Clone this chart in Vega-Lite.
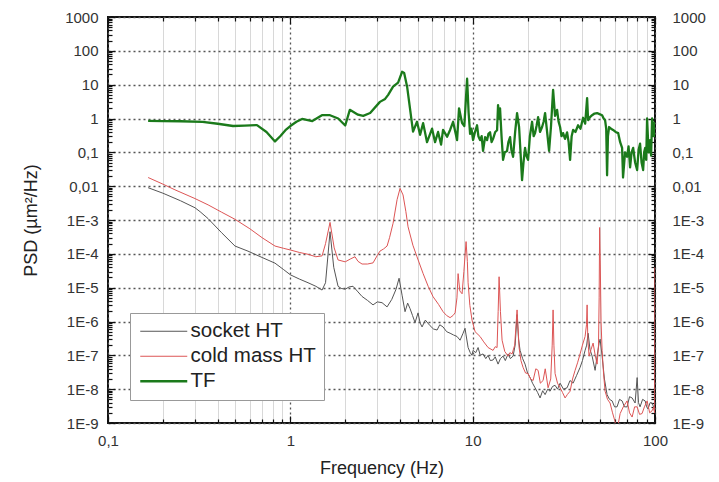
{
  "$schema": "https://vega.github.io/schema/vega-lite/v6.json",
  "width": 547,
  "height": 406,
  "autosize": "none",
  "padding": {"left": 108, "top": 17, "right": 64, "bottom": 59},
  "background": "white",
  "config": {
    "view": {"stroke": "#111", "strokeWidth": 2},
    "font": "Liberation Sans",
    "axis": {
      "labelFont": "Liberation Sans",
      "labelFontSize": 15,
      "labelColor": "#333",
      "titleFont": "Liberation Sans",
      "titleFontSize": 18,
      "titleFontWeight": "normal",
      "titleColor": "#222",
      "domain": false,
      "tickColor": "#111",
      "tickWidth": 1.2,
      "labelOverlap": false,
      "labelBound": false,
      "labelFlush": false
    }
  },
  "data": {
    "values": [
      {"series": "socket HT", "freq": 0.166, "psd": 0.009},
      {"series": "socket HT", "freq": 0.2, "psd": 0.0062},
      {"series": "socket HT", "freq": 0.25, "psd": 0.0037},
      {"series": "socket HT", "freq": 0.3, "psd": 0.0023},
      {"series": "socket HT", "freq": 0.32, "psd": 0.00176},
      {"series": "socket HT", "freq": 0.354, "psd": 0.0011},
      {"series": "socket HT", "freq": 0.42, "psd": 0.00042},
      {"series": "socket HT", "freq": 0.497, "psd": 0.00017},
      {"series": "socket HT", "freq": 0.586, "psd": 0.00012},
      {"series": "socket HT", "freq": 0.7, "psd": 0.000078},
      {"series": "socket HT", "freq": 0.824, "psd": 0.000053},
      {"series": "socket HT", "freq": 0.92, "psd": 0.000034},
      {"series": "socket HT", "freq": 1.0, "psd": 0.000024},
      {"series": "socket HT", "freq": 1.12, "psd": 0.000018},
      {"series": "socket HT", "freq": 1.25, "psd": 0.000014},
      {"series": "socket HT", "freq": 1.38, "psd": 0.000011},
      {"series": "socket HT", "freq": 1.493, "psd": 0.0000085},
      {"series": "socket HT", "freq": 1.56, "psd": 0.000014},
      {"series": "socket HT", "freq": 1.651, "psd": 0.00045},
      {"series": "socket HT", "freq": 1.73, "psd": 0.00004},
      {"series": "socket HT", "freq": 1.827, "psd": 0.000011},
      {"series": "socket HT", "freq": 1.9, "psd": 0.0000095},
      {"series": "socket HT", "freq": 2.0, "psd": 0.000009},
      {"series": "socket HT", "freq": 2.1, "psd": 0.0000105},
      {"series": "socket HT", "freq": 2.207, "psd": 0.000011},
      {"series": "socket HT", "freq": 2.35, "psd": 0.0000075},
      {"series": "socket HT", "freq": 2.473, "psd": 0.0000055},
      {"series": "socket HT", "freq": 2.65, "psd": 0.0000042},
      {"series": "socket HT", "freq": 2.842, "psd": 0.0000031},
      {"series": "socket HT", "freq": 3.0, "psd": 0.0000038},
      {"series": "socket HT", "freq": 3.184, "psd": 0.0000036},
      {"series": "socket HT", "freq": 3.393, "psd": 0.0000027},
      {"series": "socket HT", "freq": 3.6, "psd": 0.0000045},
      {"series": "socket HT", "freq": 3.8, "psd": 0.000009},
      {"series": "socket HT", "freq": 3.948, "psd": 0.000019},
      {"series": "socket HT", "freq": 4.1, "psd": 0.000006},
      {"series": "socket HT", "freq": 4.257, "psd": 0.00000195},
      {"series": "socket HT", "freq": 4.4, "psd": 0.0000035},
      {"series": "socket HT", "freq": 4.535, "psd": 0.0000024},
      {"series": "socket HT", "freq": 4.68, "psd": 0.0000015},
      {"series": "socket HT", "freq": 4.831, "psd": 0.00000093},
      {"series": "socket HT", "freq": 5.017, "psd": 0.0000018},
      {"series": "socket HT", "freq": 5.15, "psd": 0.0000009},
      {"series": "socket HT", "freq": 5.278, "psd": 0.00000069},
      {"series": "socket HT", "freq": 5.5, "psd": 0.0000011},
      {"series": "socket HT", "freq": 5.84, "psd": 0.00000075},
      {"series": "socket HT", "freq": 6.1, "psd": 0.0000006},
      {"series": "socket HT", "freq": 6.38, "psd": 0.00000056},
      {"series": "socket HT", "freq": 6.6, "psd": 0.0000008},
      {"series": "socket HT", "freq": 6.88, "psd": 0.00000069},
      {"series": "socket HT", "freq": 7.2, "psd": 0.0000005},
      {"series": "socket HT", "freq": 7.52, "psd": 0.00000045},
      {"series": "socket HT", "freq": 7.85, "psd": 0.0000004},
      {"series": "socket HT", "freq": 8.21, "psd": 0.00000036},
      {"series": "socket HT", "freq": 8.53, "psd": 0.00000028},
      {"series": "socket HT", "freq": 8.86, "psd": 0.00000045},
      {"series": "socket HT", "freq": 9.08, "psd": 0.00000063},
      {"series": "socket HT", "freq": 9.2, "psd": 0.0000004},
      {"series": "socket HT", "freq": 9.44, "psd": 0.00000017},
      {"series": "socket HT", "freq": 9.7, "psd": 0.00000012},
      {"series": "socket HT", "freq": 9.92, "psd": 0.0000001},
      {"series": "socket HT", "freq": 10.05, "psd": 0.00000014},
      {"series": "socket HT", "freq": 10.4, "psd": 0.00000012},
      {"series": "socket HT", "freq": 10.71, "psd": 0.00000017},
      {"series": "socket HT", "freq": 11.0, "psd": 0.0000001},
      {"series": "socket HT", "freq": 11.4, "psd": 0.00000011},
      {"series": "socket HT", "freq": 11.8, "psd": 0.00000008},
      {"series": "socket HT", "freq": 12.15, "psd": 0.0000001},
      {"series": "socket HT", "freq": 12.5, "psd": 0.00000007},
      {"series": "socket HT", "freq": 12.94, "psd": 0.000000073},
      {"series": "socket HT", "freq": 13.3, "psd": 0.00000009},
      {"series": "socket HT", "freq": 13.78, "psd": 0.000000055},
      {"series": "socket HT", "freq": 14.2, "psd": 0.00000008},
      {"series": "socket HT", "freq": 14.68, "psd": 0.000000095},
      {"series": "socket HT", "freq": 15.1, "psd": 0.00000007},
      {"series": "socket HT", "freq": 15.64, "psd": 0.00000011},
      {"series": "socket HT", "freq": 16.1, "psd": 0.00000008},
      {"series": "socket HT", "freq": 16.66, "psd": 0.000000095},
      {"series": "socket HT", "freq": 17.1, "psd": 0.0000002},
      {"series": "socket HT", "freq": 17.52, "psd": 0.0000016},
      {"series": "socket HT", "freq": 17.85, "psd": 0.0000003},
      {"series": "socket HT", "freq": 18.2, "psd": 0.00000014},
      {"series": "socket HT", "freq": 18.8, "psd": 0.00000008},
      {"series": "socket HT", "freq": 19.38, "psd": 0.000000055},
      {"series": "socket HT", "freq": 20.0, "psd": 0.00000003},
      {"series": "socket HT", "freq": 20.65, "psd": 0.000000022},
      {"series": "socket HT", "freq": 21.3, "psd": 0.000000015},
      {"series": "socket HT", "freq": 21.99, "psd": 0.000000011},
      {"series": "socket HT", "freq": 22.7, "psd": 0.000000008},
      {"series": "socket HT", "freq": 23.43, "psd": 0.0000000055},
      {"series": "socket HT", "freq": 24.2, "psd": 0.000000009},
      {"series": "socket HT", "freq": 24.96, "psd": 0.0000000069},
      {"series": "socket HT", "freq": 25.8, "psd": 0.00000001},
      {"series": "socket HT", "freq": 26.58, "psd": 0.0000000087},
      {"series": "socket HT", "freq": 27.4, "psd": 0.000000012},
      {"series": "socket HT", "freq": 28.31, "psd": 0.000000013},
      {"series": "socket HT", "freq": 29.2, "psd": 0.00000001},
      {"series": "socket HT", "freq": 30.16, "psd": 0.000000015},
      {"series": "socket HT", "freq": 31.5, "psd": 0.00000001},
      {"series": "socket HT", "freq": 32.95, "psd": 0.000000011},
      {"series": "socket HT", "freq": 34.2, "psd": 0.000000018},
      {"series": "socket HT", "freq": 35.54, "psd": 0.000000015},
      {"series": "socket HT", "freq": 37.1, "psd": 0.000000025},
      {"series": "socket HT", "freq": 38.83, "psd": 0.000000044},
      {"series": "socket HT", "freq": 40.0, "psd": 0.00000007},
      {"series": "socket HT", "freq": 41.36, "psd": 0.00000014},
      {"series": "socket HT", "freq": 42.2, "psd": 0.0000002},
      {"series": "socket HT", "freq": 42.96, "psd": 0.00000045},
      {"series": "socket HT", "freq": 44.0, "psd": 0.00000015},
      {"series": "socket HT", "freq": 45.19, "psd": 0.000000095},
      {"series": "socket HT", "freq": 46.93, "psd": 0.000000036},
      {"series": "socket HT", "freq": 48.2, "psd": 0.0000001},
      {"series": "socket HT", "freq": 49.37, "psd": 0.00000023},
      {"series": "socket HT", "freq": 50.0, "psd": 0.0000003},
      {"series": "socket HT", "freq": 51.27, "psd": 0.000000095},
      {"series": "socket HT", "freq": 52.8, "psd": 0.00000002},
      {"series": "socket HT", "freq": 54.6, "psd": 0.0000000069},
      {"series": "socket HT", "freq": 56.3, "psd": 0.000000005},
      {"series": "socket HT", "freq": 58.2, "psd": 0.0000000045},
      {"series": "socket HT", "freq": 60.0, "psd": 0.000000003},
      {"series": "socket HT", "freq": 61.9, "psd": 0.000000003},
      {"series": "socket HT", "freq": 63.9, "psd": 0.000000005},
      {"series": "socket HT", "freq": 66.0, "psd": 0.0000000045},
      {"series": "socket HT", "freq": 68.0, "psd": 0.000000003},
      {"series": "socket HT", "freq": 70.3, "psd": 0.000000003},
      {"series": "socket HT", "freq": 72.5, "psd": 0.000000006},
      {"series": "socket HT", "freq": 74.9, "psd": 0.0000000055},
      {"series": "socket HT", "freq": 77.8, "psd": 0.0000000039},
      {"series": "socket HT", "freq": 79.8, "psd": 0.000000022},
      {"series": "socket HT", "freq": 81.2, "psd": 0.000000004},
      {"series": "socket HT", "freq": 82.8, "psd": 0.000000003},
      {"series": "socket HT", "freq": 85.5, "psd": 0.000000005},
      {"series": "socket HT", "freq": 88.3, "psd": 0.0000000045},
      {"series": "socket HT", "freq": 90.0, "psd": 0.000000003},
      {"series": "socket HT", "freq": 91.6, "psd": 0.0000000026},
      {"series": "socket HT", "freq": 94.0, "psd": 0.000000004},
      {"series": "socket HT", "freq": 96.4, "psd": 0.0000000039},
      {"series": "socket HT", "freq": 98.2, "psd": 0.000000003},
      {"series": "socket HT", "freq": 99.8, "psd": 0.000000002},

      {"series": "cold mass HT", "freq": 0.166, "psd": 0.018},
      {"series": "cold mass HT", "freq": 0.2, "psd": 0.0115},
      {"series": "cold mass HT", "freq": 0.233, "psd": 0.0078},
      {"series": "cold mass HT", "freq": 0.3, "psd": 0.0043},
      {"series": "cold mass HT", "freq": 0.354, "psd": 0.0028},
      {"series": "cold mass HT", "freq": 0.42, "psd": 0.0017},
      {"series": "cold mass HT", "freq": 0.497, "psd": 0.00105},
      {"series": "cold mass HT", "freq": 0.6, "psd": 0.00055},
      {"series": "cold mass HT", "freq": 0.7, "psd": 0.0003},
      {"series": "cold mass HT", "freq": 0.824, "psd": 0.00017},
      {"series": "cold mass HT", "freq": 0.92, "psd": 0.000145},
      {"series": "cold mass HT", "freq": 1.0, "psd": 0.00013},
      {"series": "cold mass HT", "freq": 1.12, "psd": 0.00011},
      {"series": "cold mass HT", "freq": 1.25, "psd": 0.000097},
      {"series": "cold mass HT", "freq": 1.38, "psd": 0.000082},
      {"series": "cold mass HT", "freq": 1.493, "psd": 0.000087},
      {"series": "cold mass HT", "freq": 1.56, "psd": 0.0002},
      {"series": "cold mass HT", "freq": 1.651, "psd": 0.00085},
      {"series": "cold mass HT", "freq": 1.74, "psd": 0.00015},
      {"series": "cold mass HT", "freq": 1.827, "psd": 0.000066},
      {"series": "cold mass HT", "freq": 2.0, "psd": 0.000058},
      {"series": "cold mass HT", "freq": 2.13, "psd": 0.00007},
      {"series": "cold mass HT", "freq": 2.263, "psd": 0.000082},
      {"series": "cold mass HT", "freq": 2.35, "psd": 0.00006},
      {"series": "cold mass HT", "freq": 2.473, "psd": 0.00005},
      {"series": "cold mass HT", "freq": 2.65, "psd": 0.00005},
      {"series": "cold mass HT", "freq": 2.842, "psd": 0.000054},
      {"series": "cold mass HT", "freq": 3.0, "psd": 0.00009},
      {"series": "cold mass HT", "freq": 3.1, "psd": 0.00012},
      {"series": "cold mass HT", "freq": 3.25, "psd": 0.00014},
      {"series": "cold mass HT", "freq": 3.393, "psd": 0.00017},
      {"series": "cold mass HT", "freq": 3.5, "psd": 0.0003},
      {"series": "cold mass HT", "freq": 3.66, "psd": 0.0008},
      {"series": "cold mass HT", "freq": 3.85, "psd": 0.004},
      {"series": "cold mass HT", "freq": 3.997, "psd": 0.0086},
      {"series": "cold mass HT", "freq": 4.151, "psd": 0.0055},
      {"series": "cold mass HT", "freq": 4.3, "psd": 0.0018},
      {"series": "cold mass HT", "freq": 4.422, "psd": 0.00063},
      {"series": "cold mass HT", "freq": 4.7, "psd": 0.00018},
      {"series": "cold mass HT", "freq": 4.95, "psd": 0.000082},
      {"series": "cold mass HT", "freq": 5.35, "psd": 0.000026},
      {"series": "cold mass HT", "freq": 5.7, "psd": 0.000011},
      {"series": "cold mass HT", "freq": 6.066, "psd": 0.0000054},
      {"series": "cold mass HT", "freq": 6.5, "psd": 0.0000032},
      {"series": "cold mass HT", "freq": 6.88, "psd": 0.00000195},
      {"series": "cold mass HT", "freq": 7.2, "psd": 0.0000015},
      {"series": "cold mass HT", "freq": 7.52, "psd": 0.0000013},
      {"series": "cold mass HT", "freq": 7.8, "psd": 0.0000015},
      {"series": "cold mass HT", "freq": 8.01, "psd": 0.0000018},
      {"series": "cold mass HT", "freq": 8.2, "psd": 0.000005},
      {"series": "cold mass HT", "freq": 8.32, "psd": 0.000026},
      {"series": "cold mass HT", "freq": 8.5, "psd": 0.000008},
      {"series": "cold mass HT", "freq": 8.75, "psd": 0.0000066},
      {"series": "cold mass HT", "freq": 8.95, "psd": 0.00003},
      {"series": "cold mass HT", "freq": 9.2, "psd": 0.00023},
      {"series": "cold mass HT", "freq": 9.35, "psd": 0.00006},
      {"series": "cold mass HT", "freq": 9.44, "psd": 0.000014},
      {"series": "cold mass HT", "freq": 9.65, "psd": 0.000003},
      {"series": "cold mass HT", "freq": 9.92, "psd": 0.0000011},
      {"series": "cold mass HT", "freq": 10.31, "psd": 0.0000005},
      {"series": "cold mass HT", "freq": 10.98, "psd": 0.00000036},
      {"series": "cold mass HT", "freq": 11.5, "psd": 0.00000025},
      {"series": "cold mass HT", "freq": 12.15, "psd": 0.00000017},
      {"series": "cold mass HT", "freq": 12.94, "psd": 0.00000014},
      {"series": "cold mass HT", "freq": 13.3, "psd": 0.00000018},
      {"series": "cold mass HT", "freq": 13.61, "psd": 0.00000017},
      {"series": "cold mass HT", "freq": 13.8, "psd": 0.000002},
      {"series": "cold mass HT", "freq": 13.96, "psd": 0.000021},
      {"series": "cold mass HT", "freq": 14.2, "psd": 0.000002},
      {"series": "cold mass HT", "freq": 14.5, "psd": 0.00000028},
      {"series": "cold mass HT", "freq": 15.0, "psd": 0.00000013},
      {"series": "cold mass HT", "freq": 15.64, "psd": 0.000000095},
      {"series": "cold mass HT", "freq": 16.0, "psd": 0.00000012},
      {"series": "cold mass HT", "freq": 16.45, "psd": 0.00000011},
      {"series": "cold mass HT", "freq": 17.0, "psd": 0.0000002},
      {"series": "cold mass HT", "freq": 17.52, "psd": 0.0000022},
      {"series": "cold mass HT", "freq": 17.97, "psd": 0.00000017},
      {"series": "cold mass HT", "freq": 18.4, "psd": 0.00000007},
      {"series": "cold mass HT", "freq": 18.9, "psd": 0.000000044},
      {"series": "cold mass HT", "freq": 19.5, "psd": 0.00000003},
      {"series": "cold mass HT", "freq": 20.13, "psd": 0.000000029},
      {"series": "cold mass HT", "freq": 20.8, "psd": 0.00000002},
      {"series": "cold mass HT", "freq": 21.45, "psd": 0.000000018},
      {"series": "cold mass HT", "freq": 22.2, "psd": 0.00000004},
      {"series": "cold mass HT", "freq": 22.85, "psd": 0.000000036},
      {"series": "cold mass HT", "freq": 23.5, "psd": 0.000000015},
      {"series": "cold mass HT", "freq": 24.33, "psd": 0.000000018},
      {"series": "cold mass HT", "freq": 25.0, "psd": 0.00000004},
      {"series": "cold mass HT", "freq": 25.92, "psd": 0.000000011},
      {"series": "cold mass HT", "freq": 26.8, "psd": 0.00000002},
      {"series": "cold mass HT", "freq": 27.3, "psd": 0.0000002},
      {"series": "cold mass HT", "freq": 27.61, "psd": 0.0000022},
      {"series": "cold mass HT", "freq": 27.9, "psd": 0.0000002},
      {"series": "cold mass HT", "freq": 28.31, "psd": 0.000000029},
      {"series": "cold mass HT", "freq": 29.2, "psd": 0.000000015},
      {"series": "cold mass HT", "freq": 30.16, "psd": 0.000000011},
      {"series": "cold mass HT", "freq": 31.1, "psd": 0.000000008},
      {"series": "cold mass HT", "freq": 32.13, "psd": 0.0000000055},
      {"series": "cold mass HT", "freq": 33.1, "psd": 0.000000007},
      {"series": "cold mass HT", "freq": 34.22, "psd": 0.0000000087},
      {"series": "cold mass HT", "freq": 35.3, "psd": 0.00000002},
      {"series": "cold mass HT", "freq": 36.45, "psd": 0.000000036},
      {"series": "cold mass HT", "freq": 37.6, "psd": 0.00000006},
      {"series": "cold mass HT", "freq": 38.83, "psd": 0.00000011},
      {"series": "cold mass HT", "freq": 40.0, "psd": 0.0000002},
      {"series": "cold mass HT", "freq": 41.36, "psd": 0.00000036},
      {"series": "cold mass HT", "freq": 42.1, "psd": 0.0000008},
      {"series": "cold mass HT", "freq": 42.43, "psd": 0.0000031},
      {"series": "cold mass HT", "freq": 42.8, "psd": 0.0000003},
      {"series": "cold mass HT", "freq": 43.5, "psd": 0.000000095},
      {"series": "cold mass HT", "freq": 44.6, "psd": 0.00000015},
      {"series": "cold mass HT", "freq": 45.76, "psd": 0.00000023},
      {"series": "cold mass HT", "freq": 47.0, "psd": 0.0000001},
      {"series": "cold mass HT", "freq": 48.13, "psd": 0.000000055},
      {"series": "cold mass HT", "freq": 49.0, "psd": 0.0000002},
      {"series": "cold mass HT", "freq": 49.4, "psd": 0.000005},
      {"series": "cold mass HT", "freq": 49.7, "psd": 0.0006},
      {"series": "cold mass HT", "freq": 50.1, "psd": 0.00005},
      {"series": "cold mass HT", "freq": 50.6, "psd": 0.000001},
      {"series": "cold mass HT", "freq": 51.27, "psd": 0.00000014},
      {"series": "cold mass HT", "freq": 52.2, "psd": 0.00000003},
      {"series": "cold mass HT", "freq": 53.24, "psd": 0.0000000087},
      {"series": "cold mass HT", "freq": 54.9, "psd": 0.000000005},
      {"series": "cold mass HT", "freq": 56.7, "psd": 0.0000000039},
      {"series": "cold mass HT", "freq": 58.5, "psd": 0.000000002},
      {"series": "cold mass HT", "freq": 60.4, "psd": 0.0000000011},
      {"series": "cold mass HT", "freq": 61.5, "psd": 0.0000000006},
      {"series": "cold mass HT", "freq": 62.5, "psd": 0.0000000008},
      {"series": "cold mass HT", "freq": 64.4, "psd": 0.0000000019},
      {"series": "cold mass HT", "freq": 67.0, "psd": 0.000000003},
      {"series": "cold mass HT", "freq": 70.3, "psd": 0.0000000045},
      {"series": "cold mass HT", "freq": 72.5, "psd": 0.000000002},
      {"series": "cold mass HT", "freq": 74.9, "psd": 0.0000000015},
      {"series": "cold mass HT", "freq": 77.3, "psd": 0.000000003},
      {"series": "cold mass HT", "freq": 79.8, "psd": 0.000000003},
      {"series": "cold mass HT", "freq": 82.3, "psd": 0.0000000018},
      {"series": "cold mass HT", "freq": 84.9, "psd": 0.0000000019},
      {"series": "cold mass HT", "freq": 87.5, "psd": 0.000000003},
      {"series": "cold mass HT", "freq": 90.5, "psd": 0.0000000045},
      {"series": "cold mass HT", "freq": 93.5, "psd": 0.000000002},
      {"series": "cold mass HT", "freq": 96.4, "psd": 0.0000000023},
      {"series": "cold mass HT", "freq": 98.5, "psd": 0.000000003},
      {"series": "cold mass HT", "freq": 99.5, "psd": 0.000000002},
      {"series": "cold mass HT", "freq": 99.9, "psd": 0.00004},

      {"series": "TF", "freq": 0.166, "psd": 0.85},
      {"series": "TF", "freq": 0.2, "psd": 0.84},
      {"series": "TF", "freq": 0.25, "psd": 0.83},
      {"series": "TF", "freq": 0.33, "psd": 0.8},
      {"series": "TF", "freq": 0.4, "psd": 0.7},
      {"series": "TF", "freq": 0.485, "psd": 0.6},
      {"series": "TF", "freq": 0.56, "psd": 0.62},
      {"series": "TF", "freq": 0.656, "psd": 0.64},
      {"series": "TF", "freq": 0.74, "psd": 0.4},
      {"series": "TF", "freq": 0.824, "psd": 0.21},
      {"series": "TF", "freq": 0.88, "psd": 0.3},
      {"series": "TF", "freq": 0.94, "psd": 0.45},
      {"series": "TF", "freq": 1.0, "psd": 0.6},
      {"series": "TF", "freq": 1.08, "psd": 0.8},
      {"series": "TF", "freq": 1.16, "psd": 0.97},
      {"series": "TF", "freq": 1.32, "psd": 0.84},
      {"series": "TF", "freq": 1.49, "psd": 1.25},
      {"series": "TF", "freq": 1.65, "psd": 1.25},
      {"series": "TF", "freq": 1.83, "psd": 1.0},
      {"series": "TF", "freq": 2.0, "psd": 0.62},
      {"series": "TF", "freq": 2.12, "psd": 1.8},
      {"series": "TF", "freq": 2.35, "psd": 1.3},
      {"series": "TF", "freq": 2.51, "psd": 1.2},
      {"series": "TF", "freq": 2.74, "psd": 1.45},
      {"series": "TF", "freq": 3.1, "psd": 3.1},
      {"series": "TF", "freq": 3.31, "psd": 3.8},
      {"series": "TF", "freq": 3.44, "psd": 5.0},
      {"series": "TF", "freq": 3.66, "psd": 8.7},
      {"series": "TF", "freq": 3.9, "psd": 11.5},
      {"series": "TF", "freq": 4.1, "psd": 24},
      {"series": "TF", "freq": 4.21, "psd": 22},
      {"series": "TF", "freq": 4.37, "psd": 8.7},
      {"series": "TF", "freq": 4.71, "psd": 0.41},
      {"series": "TF", "freq": 4.95, "psd": 0.8},
      {"series": "TF", "freq": 5.15, "psd": 0.33},
      {"series": "TF", "freq": 5.35, "psd": 0.73},
      {"series": "TF", "freq": 5.62, "psd": 0.2},
      {"series": "TF", "freq": 5.99, "psd": 0.5},
      {"series": "TF", "freq": 6.22, "psd": 0.2},
      {"series": "TF", "freq": 6.46, "psd": 0.4},
      {"series": "TF", "freq": 6.71, "psd": 0.17},
      {"series": "TF", "freq": 6.88, "psd": 0.46},
      {"series": "TF", "freq": 7.24, "psd": 0.29},
      {"series": "TF", "freq": 7.52, "psd": 0.46},
      {"series": "TF", "freq": 7.81, "psd": 0.8},
      {"series": "TF", "freq": 8.21, "psd": 0.23},
      {"series": "TF", "freq": 8.42, "psd": 2.0},
      {"series": "TF", "freq": 8.75, "psd": 0.73},
      {"series": "TF", "freq": 9.0, "psd": 0.6},
      {"series": "TF", "freq": 9.32, "psd": 15},
      {"series": "TF", "freq": 9.5, "psd": 1.5},
      {"series": "TF", "freq": 9.68, "psd": 0.35},
      {"series": "TF", "freq": 9.85, "psd": 0.5},
      {"series": "TF", "freq": 10.05, "psd": 0.23},
      {"series": "TF", "freq": 10.3, "psd": 0.4},
      {"series": "TF", "freq": 10.57, "psd": 0.63},
      {"series": "TF", "freq": 10.75, "psd": 0.3},
      {"series": "TF", "freq": 10.98, "psd": 0.23},
      {"series": "TF", "freq": 11.2, "psd": 0.3},
      {"series": "TF", "freq": 11.4, "psd": 0.11},
      {"series": "TF", "freq": 11.7, "psd": 0.28},
      {"series": "TF", "freq": 12.0, "psd": 0.23},
      {"series": "TF", "freq": 12.2, "psd": 0.35},
      {"series": "TF", "freq": 12.46, "psd": 0.39},
      {"series": "TF", "freq": 12.7, "psd": 0.2},
      {"series": "TF", "freq": 12.94, "psd": 0.25},
      {"series": "TF", "freq": 13.3, "psd": 0.4},
      {"series": "TF", "freq": 13.61, "psd": 0.45},
      {"series": "TF", "freq": 13.78, "psd": 2.5},
      {"series": "TF", "freq": 13.95, "psd": 1.0},
      {"series": "TF", "freq": 14.13, "psd": 2.0},
      {"series": "TF", "freq": 14.4, "psd": 0.3},
      {"series": "TF", "freq": 14.68, "psd": 0.06},
      {"series": "TF", "freq": 15.0, "psd": 0.1},
      {"series": "TF", "freq": 15.44, "psd": 0.11},
      {"series": "TF", "freq": 15.7, "psd": 0.2},
      {"series": "TF", "freq": 16.04, "psd": 0.28},
      {"series": "TF", "freq": 16.3, "psd": 0.12},
      {"series": "TF", "freq": 16.66, "psd": 0.074},
      {"series": "TF", "freq": 17.1, "psd": 0.4},
      {"series": "TF", "freq": 17.52, "psd": 1.45},
      {"series": "TF", "freq": 17.97, "psd": 0.56},
      {"series": "TF", "freq": 18.3, "psd": 0.1},
      {"series": "TF", "freq": 18.66, "psd": 0.015},
      {"series": "TF", "freq": 19.0, "psd": 0.05},
      {"series": "TF", "freq": 19.38, "psd": 0.135},
      {"series": "TF", "freq": 19.7, "psd": 0.08},
      {"series": "TF", "freq": 20.13, "psd": 0.06},
      {"series": "TF", "freq": 20.6, "psd": 0.3},
      {"series": "TF", "freq": 21.18, "psd": 0.8},
      {"series": "TF", "freq": 21.6, "psd": 0.3},
      {"series": "TF", "freq": 21.99, "psd": 0.37},
      {"series": "TF", "freq": 22.4, "psd": 0.6},
      {"series": "TF", "freq": 22.85, "psd": 1.1},
      {"series": "TF", "freq": 23.4, "psd": 0.4},
      {"series": "TF", "freq": 24.03, "psd": 0.56},
      {"series": "TF", "freq": 24.5, "psd": 0.8},
      {"series": "TF", "freq": 24.96, "psd": 1.45},
      {"series": "TF", "freq": 25.6, "psd": 0.4},
      {"series": "TF", "freq": 26.25, "psd": 0.11},
      {"series": "TF", "freq": 26.9, "psd": 0.6},
      {"series": "TF", "freq": 27.61, "psd": 7.0},
      {"series": "TF", "freq": 28.3, "psd": 1.2},
      {"series": "TF", "freq": 29.04, "psd": 1.8},
      {"series": "TF", "freq": 29.6, "psd": 0.8},
      {"series": "TF", "freq": 30.16, "psd": 0.56},
      {"series": "TF", "freq": 30.7, "psd": 0.3},
      {"series": "TF", "freq": 31.33, "psd": 0.37},
      {"series": "TF", "freq": 32.1, "psd": 0.25},
      {"series": "TF", "freq": 32.95, "psd": 0.39},
      {"series": "TF", "freq": 33.6, "psd": 0.2},
      {"series": "TF", "freq": 34.22, "psd": 0.06},
      {"series": "TF", "freq": 34.9, "psd": 0.3},
      {"series": "TF", "freq": 35.54, "psd": 0.46},
      {"series": "TF", "freq": 36.6, "psd": 0.4},
      {"series": "TF", "freq": 37.87, "psd": 0.63},
      {"series": "TF", "freq": 39.0, "psd": 0.5},
      {"series": "TF", "freq": 40.33, "psd": 1.05},
      {"series": "TF", "freq": 41.4, "psd": 0.7},
      {"series": "TF", "freq": 42.43, "psd": 4.0},
      {"series": "TF", "freq": 42.96, "psd": 0.9},
      {"series": "TF", "freq": 44.0, "psd": 1.1},
      {"series": "TF", "freq": 45.19, "psd": 1.25},
      {"series": "TF", "freq": 46.6, "psd": 1.4},
      {"series": "TF", "freq": 48.13, "psd": 1.45},
      {"series": "TF", "freq": 49.6, "psd": 1.35},
      {"series": "TF", "freq": 51.27, "psd": 1.25},
      {"series": "TF", "freq": 52.3, "psd": 1.0},
      {"series": "TF", "freq": 53.24, "psd": 0.9},
      {"series": "TF", "freq": 54.0, "psd": 0.5},
      {"series": "TF", "freq": 54.6, "psd": 0.021},
      {"series": "TF", "freq": 55.2, "psd": 0.3},
      {"series": "TF", "freq": 56.0, "psd": 0.56},
      {"series": "TF", "freq": 57.4, "psd": 0.5},
      {"series": "TF", "freq": 58.9, "psd": 0.46},
      {"series": "TF", "freq": 60.8, "psd": 0.4},
      {"series": "TF", "freq": 62.8, "psd": 0.37},
      {"series": "TF", "freq": 64.4, "psd": 0.2},
      {"series": "TF", "freq": 66.0, "psd": 0.135},
      {"series": "TF", "freq": 66.8, "psd": 0.018},
      {"series": "TF", "freq": 68.5, "psd": 0.1},
      {"series": "TF", "freq": 70.3, "psd": 0.074},
      {"series": "TF", "freq": 71.6, "psd": 0.15},
      {"series": "TF", "freq": 73.0, "psd": 0.036},
      {"series": "TF", "freq": 74.4, "psd": 0.1},
      {"series": "TF", "freq": 75.9, "psd": 0.135},
      {"series": "TF", "freq": 77.8, "psd": 0.05},
      {"series": "TF", "freq": 79.8, "psd": 0.03},
      {"series": "TF", "freq": 81.3, "psd": 0.12},
      {"series": "TF", "freq": 82.8, "psd": 0.18},
      {"series": "TF", "freq": 84.4, "psd": 0.05},
      {"series": "TF", "freq": 86.1, "psd": 0.03},
      {"series": "TF", "freq": 87.2, "psd": 0.1},
      {"series": "TF", "freq": 88.3, "psd": 0.135},
      {"series": "TF", "freq": 89.5, "psd": 0.06},
      {"series": "TF", "freq": 90.5, "psd": 1.0},
      {"series": "TF", "freq": 92.2, "psd": 0.1},
      {"series": "TF", "freq": 94.0, "psd": 0.23},
      {"series": "TF", "freq": 95.2, "psd": 0.08},
      {"series": "TF", "freq": 96.4, "psd": 1.0},
      {"series": "TF", "freq": 97.6, "psd": 0.56},
      {"series": "TF", "freq": 98.7, "psd": 0.3},
      {"series": "TF", "freq": 99.8, "psd": 0.8}
    ]
  },
  "layer": [
    {
      "mark": {"type": "line", "clip": true, "strokeJoin": "round"},
      "encoding": {
        "x": {
          "field": "freq",
          "type": "quantitative",
          "scale": {"type": "log", "domain": [0.1, 100], "nice": false},
          "axis": {
            "orient": "bottom",
            "title": "Frequency (Hz)",
            "values": [0.1, 1, 10, 100],
            "grid": true,
            "gridColor": "#555",
            "gridDash": [2, 3],
            "gridWidth": 1.3,
            "tickSize": -7,
            "labelExpr": "datum.value < 1 ? replace(format(datum.value, '.1f'), '.', ',') : format(datum.value, 'd')",
            "labelPadding": 17,
            "titlePadding": 11
          }
        },
        "y": {
          "field": "psd",
          "type": "quantitative",
          "scale": {"type": "log", "domain": [1e-9, 1000], "nice": false},
          "axis": {
            "orient": "left",
            "title": "PSD (µm²/Hz)",
            "values": [1e-9, 1e-8, 1e-7, 1e-6, 1e-5, 1e-4, 0.001, 0.01, 0.1, 1, 10, 100, 1000],
            "grid": true,
            "gridColor": "#555",
            "gridDash": [2, 3],
            "gridWidth": 1.3,
            "tickSize": -7,
            "labelExpr": "datum.value >= 1 ? format(datum.value, 'd') : datum.value > 0.005 ? replace(format(datum.value, '.2~f'), '.', ',') : '1E' + round(log(datum.value)/LN10)",
            "labelPadding": 17,
            "titlePadding": 24
          }
        },
        "color": {
          "field": "series",
          "type": "ordinal",
          "scale": {"type": "ordinal", "domain": ["socket HT", "cold mass HT", "TF"], "range": ["#555555", "#dd5555", "#1b7a1b"]},
          "legend": {
            "orient": "none",
            "legendX": 22,
            "legendY": 296,
            "title": null,
            "symbolType": "M-1.6,0H7.8",
            "symbolSize": 100,
            "labelFont": "Liberation Sans",
            "labelFontSize": 20.5,
            "labelColor": "#222",
            "labelOffset": 32,
            "labelLimit": 240,
            "rowPadding": 4,
            "padding": 8,
            "strokeColor": "#999",
            "fillColor": "white"
          }
        },
        "strokeWidth": {
          "field": "series",
          "type": "ordinal",
          "scale": {"type": "ordinal", "domain": ["socket HT", "cold mass HT", "TF"], "range": [1, 1, 2.3]},
          "legend": {
            "orient": "none",
            "legendX": 22,
            "legendY": 296,
            "title": null,
            "symbolType": "M-1.6,0H7.8",
            "symbolSize": 100,
            "labelFont": "Liberation Sans",
            "labelFontSize": 20.5,
            "labelColor": "#222",
            "labelOffset": 32,
            "labelLimit": 240,
            "rowPadding": 4,
            "padding": 8,
            "strokeColor": "#999",
            "fillColor": "white"
          }
        }
      }
    },
    {
      "transform": [{"filter": "false"}],
      "mark": {"type": "line", "clip": true},
      "encoding": {
        "x": {
          "field": "freq",
          "type": "quantitative",
          "scale": {"type": "log", "domain": [0.1, 100], "nice": false},
          "axis": {"orient": "top", "title": null, "labels": false, "grid": false, "values": [0.1, 1, 10, 100], "tickSize": -7}
        },
        "y": {
          "field": "psd",
          "type": "quantitative",
          "scale": {"type": "log", "domain": [1e-9, 1000], "nice": false},
          "axis": {
            "orient": "right",
            "title": null,
            "grid": false,
            "values": [1e-9, 1e-8, 1e-7, 1e-6, 1e-5, 1e-4, 0.001, 0.01, 0.1, 1, 10, 100, 1000],
            "tickSize": -7,
            "labelExpr": "datum.value >= 1 ? format(datum.value, 'd') : datum.value > 0.005 ? replace(format(datum.value, '.2~f'), '.', ',') : '1E' + round(log(datum.value)/LN10)",
            "labelPadding": 24
          }
        }
      }
    },
    {
      "transform": [{"filter": "false"}],
      "mark": {"type": "line", "clip": true},
      "encoding": {
        "x": {
          "field": "freq",
          "type": "quantitative",
          "scale": {"type": "log", "domain": [0.1, 100], "nice": false},
          "axis": {
            "orient": "bottom",
            "title": null,
            "labels": false,
            "grid": true,
            "gridColor": "#d8d8d8",
            "gridWidth": 1,
            "values": [0.2, 0.3, 0.4, 0.5, 0.6, 0.7, 0.8, 0.9, 2, 3, 4, 5, 6, 7, 8, 9, 20, 30, 40, 50, 60, 70, 80, 90],
            "tickSize": -4
          }
        },
        "y": {
          "field": "psd",
          "type": "quantitative",
          "scale": {"type": "log", "domain": [1e-9, 1000], "nice": false},
          "axis": {
            "orient": "left",
            "title": null,
            "labels": false,
            "grid": false,
            "values": [2e-9, 3e-9, 4e-9, 5e-9, 6e-9, 7e-9, 8e-9, 9e-9, 2e-8, 3e-8, 4e-8, 5e-8, 6e-8, 7e-8, 8e-8, 9e-8, 2e-7, 3e-7, 4e-7, 5e-7, 6e-7, 7e-7, 8e-7, 9e-7, 2e-6, 3e-6, 4e-6, 5e-6, 6e-6, 7e-6, 8e-6, 9e-6, 2e-5, 3e-5, 4e-5, 5e-5, 6e-5, 7e-5, 8e-5, 9e-5, 2e-4, 3e-4, 4e-4, 5e-4, 6e-4, 7e-4, 8e-4, 9e-4, 0.002, 0.003, 0.004, 0.005, 0.006, 0.007, 0.008, 0.009, 0.02, 0.03, 0.04, 0.05, 0.06, 0.07, 0.08, 0.09, 0.2, 0.3, 0.4, 0.5, 0.6, 0.7, 0.8, 0.9, 2, 3, 4, 5, 6, 7, 8, 9, 20, 30, 40, 50, 60, 70, 80, 90, 200, 300, 400, 500, 600, 700, 800, 900],
            "tickSize": -4
          }
        }
      }
    },
    {
      "transform": [{"filter": "false"}],
      "mark": {"type": "line", "clip": true},
      "encoding": {
        "x": {
          "field": "freq",
          "type": "quantitative",
          "scale": {"type": "log", "domain": [0.1, 100], "nice": false},
          "axis": {
            "orient": "top",
            "title": null,
            "labels": false,
            "grid": false,
            "values": [0.2, 0.3, 0.4, 0.5, 0.6, 0.7, 0.8, 0.9, 2, 3, 4, 5, 6, 7, 8, 9, 20, 30, 40, 50, 60, 70, 80, 90],
            "tickSize": -4
          }
        },
        "y": {
          "field": "psd",
          "type": "quantitative",
          "scale": {"type": "log", "domain": [1e-9, 1000], "nice": false},
          "axis": {
            "orient": "right",
            "title": null,
            "labels": false,
            "grid": false,
            "values": [2e-9, 3e-9, 4e-9, 5e-9, 6e-9, 7e-9, 8e-9, 9e-9, 2e-8, 3e-8, 4e-8, 5e-8, 6e-8, 7e-8, 8e-8, 9e-8, 2e-7, 3e-7, 4e-7, 5e-7, 6e-7, 7e-7, 8e-7, 9e-7, 2e-6, 3e-6, 4e-6, 5e-6, 6e-6, 7e-6, 8e-6, 9e-6, 2e-5, 3e-5, 4e-5, 5e-5, 6e-5, 7e-5, 8e-5, 9e-5, 2e-4, 3e-4, 4e-4, 5e-4, 6e-4, 7e-4, 8e-4, 9e-4, 0.002, 0.003, 0.004, 0.005, 0.006, 0.007, 0.008, 0.009, 0.02, 0.03, 0.04, 0.05, 0.06, 0.07, 0.08, 0.09, 0.2, 0.3, 0.4, 0.5, 0.6, 0.7, 0.8, 0.9, 2, 3, 4, 5, 6, 7, 8, 9, 20, 30, 40, 50, 60, 70, 80, 90, 200, 300, 400, 500, 600, 700, 800, 900],
            "tickSize": -4
          }
        }
      }
    }
  ]
}
